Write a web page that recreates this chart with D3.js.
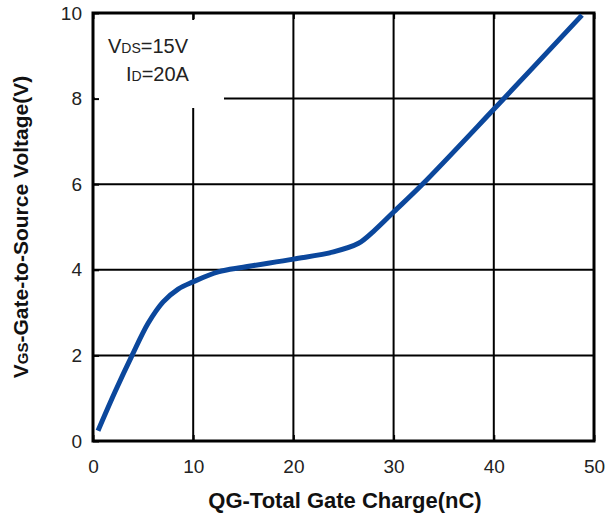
<!DOCTYPE html>
<html>
<head>
<meta charset="utf-8">
<script src="https://cdn.jsdelivr.net/npm/d3@7"></script>
<style>
  body { margin: 0; background: #fff; }
  text { font-family: "Liberation Sans", Arial, sans-serif; }
</style>
</head>
<body>
<div id="chart"></div>
<script>
// Gate charge curve
var qg  = [0.5, 2.2, 3.9, 5.5, 7, 8.5, 10, 12.5, 15, 20, 24, 26.5, 28, 30, 32.8, 40, 48.8];
var vgs = [0.24, 1.15, 2.0, 2.75, 3.25, 3.55, 3.72, 3.95, 4.06, 4.25, 4.42, 4.62, 4.9, 5.35, 5.98, 7.75, 9.95];
var xTicks = [0, 10, 20, 30, 40, 50];
var yTicks = [0, 2, 4, 6, 8, 10];

var width = 608, height = 516;
var margin = { left: 93, right: 14, top: 13, bottom: 75 };

var svg = d3.select("#chart").append("svg")
    .attr("width", width)
    .attr("height", height);

var x = d3.scaleLinear().domain([0, 50]).range([margin.left, width - margin.right]);
var y = d3.scaleLinear().domain([0, 10]).range([height - margin.bottom, margin.top]);

// grid
svg.append("g").selectAll("line").data(xTicks).enter().append("line")
    .attr("x1", d => x(d)).attr("x2", d => x(d))
    .attr("y1", y(0)).attr("y2", y(10))
    .attr("stroke", "#000").attr("stroke-width", 2);
svg.append("g").selectAll("line").data(yTicks).enter().append("line")
    .attr("x1", x(0)).attr("x2", x(50))
    .attr("y1", d => y(d)).attr("y2", d => y(d))
    .attr("stroke", "#000").attr("stroke-width", 2);

// white box behind the conditions text
svg.append("rect")
    .attr("x", x(0) + 2).attr("y", y(10) + 7)
    .attr("width", 129).attr("height", 88)
    .attr("fill", "#fff");

// axes (inward ticks)
var xAxis = svg.append("g")
    .attr("transform", "translate(0," + y(0) + ")")
    .call(d3.axisBottom(x).tickValues(xTicks).tickSizeInner(-6).tickSizeOuter(0).tickPadding(19));
var yAxis = svg.append("g")
    .attr("transform", "translate(" + x(0) + ",0)")
    .call(d3.axisLeft(y).tickValues(yTicks).tickSizeInner(-6).tickSizeOuter(0).tickPadding(11));
var topAxis = svg.append("g")
    .attr("transform", "translate(0," + y(10) + ")")
    .call(d3.axisTop(x).tickValues(xTicks).tickSizeInner(-6).tickSizeOuter(0).tickFormat(""));

[xAxis, yAxis, topAxis].forEach(function (g) {
  g.select(".domain").remove();
  g.selectAll("line").attr("stroke", "#000").attr("stroke-width", 2);
  g.selectAll("text").attr("font-size", 19).attr("fill", "#222")
    .style("font-family", "'Liberation Sans', Arial, sans-serif");
});

// frame
svg.append("rect")
    .attr("x", x(0)).attr("y", y(10))
    .attr("width", x(50) - x(0)).attr("height", y(0) - y(10))
    .attr("fill", "none").attr("stroke", "#000").attr("stroke-width", 3);

// curve
var pts = qg.map((d, i) => [d, vgs[i]]);
svg.append("path")
    .datum(pts)
    .attr("d", d3.line().x(d => x(d[0])).y(d => y(d[1])).curve(d3.curveCatmullRom.alpha(0.5)))
    .attr("fill", "none")
    .attr("stroke", "#0b479c")
    .attr("stroke-width", 5)
    .attr("stroke-linecap", "butt");

// conditions
var t1 = svg.append("text").attr("x", 108).attr("y", 53).attr("font-size", 20).attr("fill", "#222");
t1.append("tspan").text("V");
t1.append("tspan").attr("font-size", 14).text("DS");
t1.append("tspan").text("=15V");
var t2 = svg.append("text").attr("x", 126).attr("y", 81).attr("font-size", 20).attr("fill", "#222");
t2.append("tspan").text("I");
t2.append("tspan").attr("font-size", 14).text("D");
t2.append("tspan").text("=20A");

// axis titles
svg.append("text")
    .attr("x", 345).attr("y", 508)
    .attr("text-anchor", "middle")
    .attr("font-size", 22).attr("font-weight", "bold").attr("fill", "#111")
    .text("QG-Total Gate Charge(nC)");

var yt = svg.append("text")
    .attr("transform", "translate(28,227) rotate(-90)")
    .attr("text-anchor", "middle")
    .attr("font-size", 21).attr("font-weight", "bold").attr("fill", "#111");
yt.append("tspan").text("V");
yt.append("tspan").attr("font-size", 15).text("GS");
yt.append("tspan").text("-Gate-to-Source Voltage(V)");
</script>
</body>
</html>
